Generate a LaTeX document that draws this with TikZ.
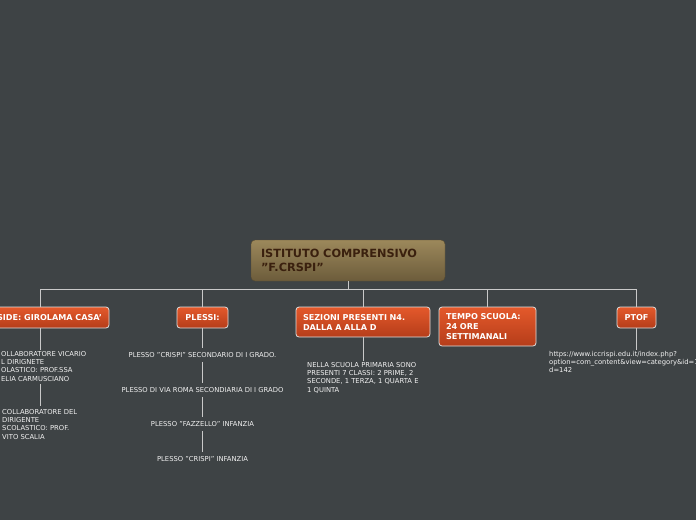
\documentclass[tikz,border=0pt]{standalone}
\usepackage{fontspec}
\setmainfont{DejaVu Sans}
\usetikzlibrary{positioning,calc}
\definecolor{bgdark}{HTML}{3E4345}
\definecolor{rootTop}{HTML}{9C885B}
\definecolor{rootBot}{HTML}{6C5C3B}
\definecolor{rootText}{HTML}{3A200E}
\definecolor{topicTop}{HTML}{E4592B}
\definecolor{topicBot}{HTML}{B53D1A}
\definecolor{linkGray}{HTML}{C9C9C9}
\newcommand{\dq}{\symbol{34}}
\newcommand{\sq}{\symbol{39}}

\begin{document}
\begin{tikzpicture}[
    x=1pt, y=-1pt,
    root/.style={rectangle, draw=rootBot!80!black, rounded corners=4pt, top color=rootTop, bottom color=rootBot,
        font=\fontsize{11.3}{14}\selectfont\bfseries, text=rootText, align=left, inner xsep=10pt},
    topic/.style={rectangle, draw=white!75!gray, line width=0.8pt, rounded corners=3pt, top color=topicTop, bottom color=topicBot,
        font=\fontsize{8.1}{10}\selectfont\bfseries, text=white, align=left, inner xsep=7pt},
    note/.style={font=\fontsize{6.8}{8.3}\selectfont, text=white!90!gray, align=left, inner sep=1pt},
    link/.style={draw=linkGray, line width=0.8pt}
]
    \useasboundingbox (0,0) rectangle (696,520);
    \fill[bgdark] (0,0) rectangle (696,520);
    \clip (0,0) rectangle (696,520);

    % central topic
    \node[root, minimum width=194, minimum height=41, text width=174] (root) at (348,260.5) {ISTITUTO COMPRENSIVO\\\dq F.CRSPI\dq};

    % main topics
    \node[topic, minimum height=21, text width=124, align=right] (preside) at (40,317.5) {SIDE: GIROLAMA CASA\sq};
    \node[topic, minimum width=51, minimum height=21] (plessi) at (202.5,317.5) {PLESSI:};
    \node[topic, minimum height=30, text width=120] (sezioni) at (363,322) {SEZIONI PRESENTI N4.\\DALLA A ALLA D};
    \node[topic, minimum height=39, text width=83] (tempo) at (487.5,326.5) {TEMPO SCUOLA:\\24 ORE\\SETTIMANALI};
    \node[topic, minimum width=39, minimum height=21] (ptof) at (636.5,317.5) {PTOF};

    % details
    \node[note, anchor=north west] (vicario) at (0,350) {OLLABORATORE VICARIO\\L DIRIGNETE\\OLASTICO: PROF.SSA\\ELIA CARMUSCIANO};
    \node[note, anchor=north west] (scalia) at (1,408) {COLLABORATORE DEL\\DIRIGENTE\\SCOLASTICO: PROF.\\VITO SCALIA};
    \node[note] (crispi) at (202.5,355) {PLESSO \dq CRISPI\dq{} SECONDARIO DI I GRADO.};
    \node[note] (roma) at (202.5,390) {PLESSO DI VIA ROMA SECONDIARIA DI I GRADO};
    \node[note] (fazzello) at (202.5,424) {PLESSO \dq FAZZELLO\dq{} INFANZIA};
    \node[note] (infanzia) at (202.5,459) {PLESSO \dq CRISPI\dq{} INFANZIA};
    \node[note, anchor=north west] (classi) at (306,361) {NELLA SCUOLA PRIMARIA SONO\\PRESENTI 7 CLASSI: 2 PRIME, 2\\SECONDE, 1 TERZA, 1 QUARTA E\\1 QUINTA};
    \node[note, anchor=north west] (url) at (548,350) {https://www.iccrispi.edu.it/index.php?\\option=com\_content\&view=category\&id=182\\d=142};

    % connectors
    \coordinate (bus) at ($(root.south)+(0,8)$);
    \draw[link] (root.south) -- (bus);
    \draw[link] (bus -| preside.north) -- (bus -| ptof.north);
    \foreach \t in {preside,plessi,sezioni,tempo,ptof}
        \draw[link] (bus -| \t.north) -- (\t.north);

    \draw[link] (preside.south) -- (preside.south |- vicario.north);
    \draw[link] ($(preside.south |- vicario.south)+(0,2)$) -- ($(preside.south |- scalia.north)+(0,-2)$);
    \draw[link] (plessi.south) -- ($(crispi.north)+(0,-3)$);
    \draw[link] ($(crispi.south)+(0,3)$) -- ($(roma.north)+(0,-3)$);
    \draw[link] ($(roma.south)+(0,3)$) -- ($(fazzello.north)+(0,-3)$);
    \draw[link] ($(fazzello.south)+(0,3)$) -- ($(infanzia.north)+(0,-3)$);
    \draw[link] (sezioni.south) -- (sezioni.south |- classi.north);
    \draw[link] (ptof.south) -- (ptof.south |- url.north);
\end{tikzpicture}
\end{document}
